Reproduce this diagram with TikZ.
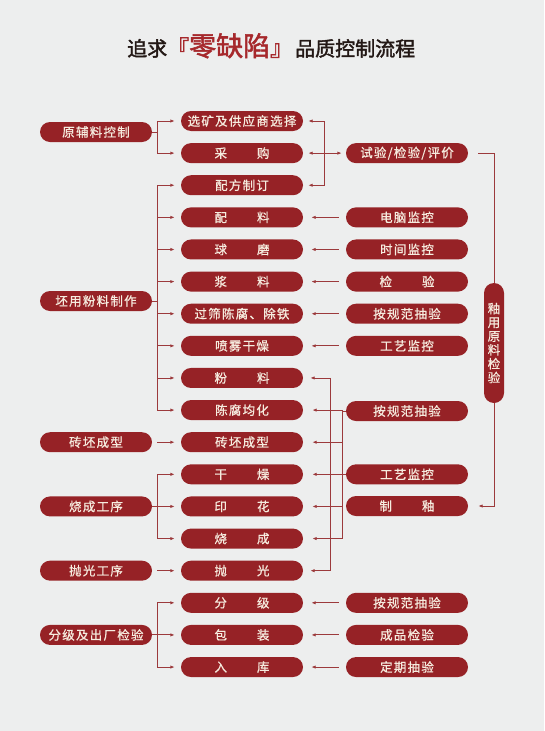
\documentclass[tikz,border=0pt]{standalone}
\usepackage{fontspec}
\setmainfont{Noto Sans CJK SC}
\newfontfamily\boxfont[LetterSpace=10,FakeBold=0.8]{Noto Sans CJK SC}
\newfontfamily\titlefont[FakeBold=2]{Noto Sans CJK SC}
\usetikzlibrary{arrows.meta,calc}
\definecolor{bg}{HTML}{EDEEEE}
\definecolor{boxred}{HTML}{962226}
\definecolor{lnred}{HTML}{9C3A3C}
\definecolor{txtc}{HTML}{F6ECDF}
\definecolor{titleblack}{HTML}{231815}
\definecolor{titlered}{HTML}{A6282C}
\newcommand{\twoch}[2]{#1\hspace{30pt}#2}
\begin{document}
\begin{tikzpicture}[x=1pt,y=-1pt,
  box/.style={fill=boxred, rounded corners=10pt, minimum height=20pt, inner sep=0pt,
    text=txtc, font=\boxfont\fontsize{12.5}{14}\selectfont},
  mid/.style={box, minimum width=122pt},
  lft/.style={box, minimum width=112pt},
  rgt/.style={box, minimum width=122pt},
  ln/.style={draw=lnred, line width=0.9pt},
  arr/.style={ln, -{Latex[length=4.5pt,width=3.4pt]}}
]
\fill[bg] (0,0) rectangle (544,731);
\useasboundingbox (0,0) rectangle (544,731);

% title
\node[anchor=base west, inner sep=0pt, text=titleblack] (title) at (127,56)
  {\titlefont\fontsize{20}{20}\selectfont 追求{\color{titlered}\fontsize{22}{22}\selectfont 『}{\color{titlered}\fontsize{27}{27}\selectfont 零缺陷}{\color{titlered}\fontsize{22}{22}\selectfont 』}\hspace{3pt}品质控制流程};

% middle column
\node[mid] (M1)  at (242,121)    {选矿及供应商选择};
\node[mid] (M2)  at (242,153.12) {\twoch{采}{购}};
\node[mid] (M3)  at (242,185.24) {配方制订};
\node[mid] (M4)  at (242,217.36) {\twoch{配}{料}};
\node[mid] (M5)  at (242,249.48) {\twoch{球}{磨}};
\node[mid] (M6)  at (242,281.6)  {\twoch{浆}{料}};
\node[mid] (M7)  at (242,313.72) {过筛陈腐、除铁};
\node[mid] (M8)  at (242,345.84) {喷雾干燥};
\node[mid] (M9)  at (242,377.96) {\twoch{粉}{料}};
\node[mid] (M10) at (242,410.08) {陈腐均化};
\node[mid] (M11) at (242,442.2)  {砖坯成型};
\node[mid] (M12) at (242,474.32) {\twoch{干}{燥}};
\node[mid] (M13) at (242,506.44) {\twoch{印}{花}};
\node[mid] (M14) at (242,538.56) {\twoch{烧}{成}};
\node[mid] (M15) at (242,570.68) {\twoch{抛}{光}};
\node[mid] (M16) at (242,602.8)  {\twoch{分}{级}};
\node[mid] (M17) at (242,634.92) {\twoch{包}{装}};
\node[mid] (M18) at (242,667.04) {\twoch{入}{库}};

% left column
\node[lft] (L1) at (96,132)    {原辅料控制};
\node[lft] (L2) at (96,301)    {坯用粉料制作};
\node[lft] (L3) at (96,442.2)  {砖坯成型};
\node[lft] (L4) at (96,506.44) {烧成工序};
\node[lft] (L5) at (96,570.68) {抛光工序};
\node[lft] (L6) at (96,634.92) {分级及出厂检验};

% right column
\node[rgt] (R1)  at (407,153.12) {试验/检验/评价};
\node[rgt] (R2)  at (407,217.36) {电脑监控};
\node[rgt] (R3)  at (407,249.48) {时间监控};
\node[rgt] (R4)  at (407,281.6)  {\twoch{检}{验}};
\node[rgt] (R5)  at (407,313.72) {按规范抽验};
\node[rgt] (R6)  at (407,345.84) {工艺监控};
\node[rgt] (R7)  at (407,411)    {按规范抽验};
\node[rgt] (R8)  at (407,474.32) {工艺监控};
\node[rgt] (R9)  at (407,506.0)  {\twoch{制}{釉}};
\node[rgt] (R10) at (407,602.8)  {按规范抽验};
\node[rgt] (R11) at (407,634.92) {成品检验};
\node[rgt] (R12) at (407,667.04) {定期抽验};

% vertical box
\node[box, minimum width=20pt, minimum height=120pt, align=center,
  font=\boxfont\fontsize{12.5}{13.8}\selectfont] (V) at (494,343)
  {釉\\用\\原\\料\\检\\验};

% left brackets
\draw[ln] (L1.east) -- ++(5,0) coordinate (b1);
\foreach \m in {M1,M2} \draw[arr,shorten >=6pt] (b1) |- (\m.west);
\draw[ln] (L2.east) -- ++(5,0) coordinate (b2);
\foreach \i in {3,...,10} \draw[arr,shorten >=6pt] (b2) |- (M\i.west);
\draw[arr,shorten <=5pt,shorten >=6pt] (L3.east) -- (M11.west);
\draw[ln] (L4.east) -- ++(5,0) coordinate (b4);
\foreach \i in {12,13,14} \draw[arr,shorten >=6pt] (b4) |- (M\i.west);
\draw[arr,shorten <=5pt,shorten >=6pt] (L5.east) -- (M15.west);
\draw[ln] (L6.east) -- ++(5,0) coordinate (b6);
\foreach \i in {16,17,18} \draw[arr,shorten >=6pt] (b6) |- (M\i.west);

% top right bracket
\path (R1.west) ++(-21,0) coordinate (tb);
\foreach \m in {M1,M2,M3} \draw[arr,shorten >=5pt] (tb) |- (\m.east);
\draw[arr,shorten >=4pt] (tb) -- (R1.west);

% right to middle arrows
\foreach \r/\m in {R2/M4,R3/M5,R4/M6,R5/M7,R6/M8,R10/M16,R11/M17,R12/M18}
  \draw[arr,shorten <=7pt,shorten >=8pt] (\r.west) -- (\m.east);

% line A
\path (M9.east) ++(27,0) coordinate (qa);
\draw[arr,shorten >=7pt] (qa) -- (M9.east);
\draw[arr,shorten >=7pt] (qa) |- (M15.east);

% line B
\path (R7.west) ++(-3,0) coordinate (qb);
\draw[ln] (R7.west) -- (qb);
\draw[ln] (R8.west) -- (R8.west -| qb);
\foreach \i in {10,...,14} \draw[arr,shorten >=9pt] (qb) |- (M\i.east);

% glaze material check
\draw[ln,shorten <=10pt] (R1.east) -| (V.north);
\draw[arr,shorten >=10pt] (V.south) |- (R9.east);
\end{tikzpicture}
\end{document}
